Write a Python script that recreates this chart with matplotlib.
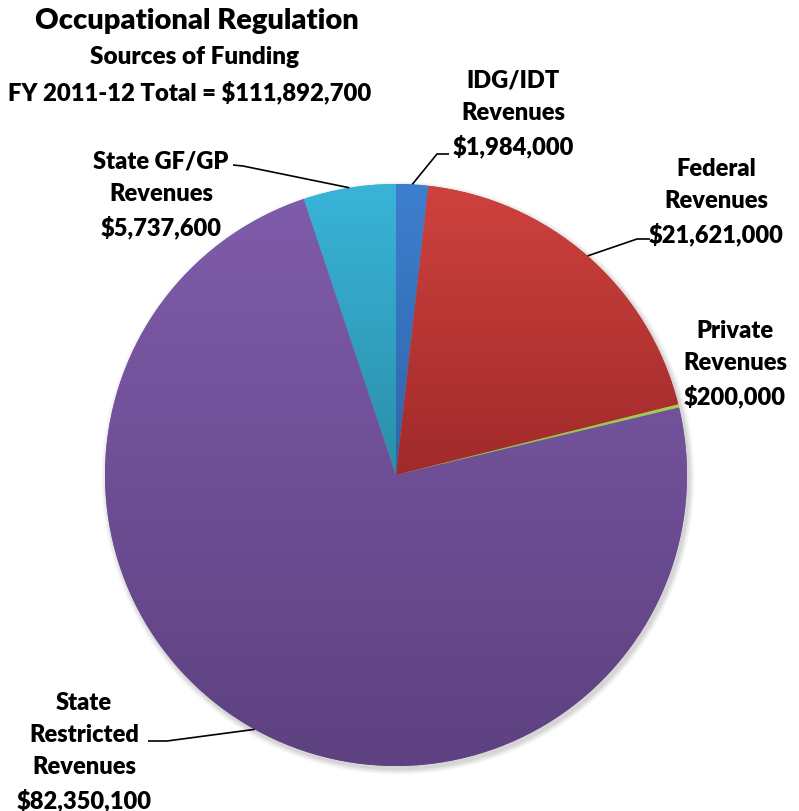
import numpy as np
import matplotlib
matplotlib.use("Agg")
import matplotlib.pyplot as plt
from matplotlib.colors import to_rgb

# data
labels = ["IDG/IDT\nRevenues", "Federal\nRevenues", "Private\nRevenues",
          "State\nRestricted\nRevenues", "State GF/GP\nRevenues"]
values = [1984000, 21621000, 200000, 82350100, 5737600]
top_colors = ["#3D7FCF", "#CE423E", "#A4CF52", "#7F5CAA", "#39B4D8"]
bottom_colors = ["#2F65A8", "#A02A2A", "#86AE3C", "#5D4180", "#2A8FA9"]
title_lines = ["Occupational Regulation", "Sources of Funding",
               "FY 2011-12 Total = $111,892,700"]

W, H = 799, 812
fig = plt.figure(figsize=(W / 100, H / 100), dpi=100)
ax = fig.add_axes([0, 0, 1, 1])

def py(y):
    return H - y

cx, cy, R = 396, py(476), 291

# soft shadow
for i, a in enumerate([0.05, 0.05, 0.04, 0.03]):
    ax.add_patch(plt.Circle((cx + 2, cy - 3), R + 1 + i * 1.5, color="black",
                            alpha=a, lw=0, zorder=0))

wedges, _ = ax.pie(values, startangle=90, counterclock=False, center=(cx, cy),
                   radius=R, colors=top_colors, frame=True,
                   wedgeprops=dict(linewidth=0))
ax.set_xlim(0, W)
ax.set_ylim(0, H)
ax.set_aspect("equal")
ax.axis("off")

# vertical gradient in each slice
for w, c1, c2 in zip(wedges, top_colors, bottom_colors):
    ext = w.get_path().get_extents()
    t = np.linspace(0, 1, 256)[:, None]
    grad = (1 - t) * np.array(to_rgb(c1)) + t * np.array(to_rgb(c2))
    img = np.repeat(grad[:, None, :], 2, axis=1)
    im = ax.imshow(img, extent=[ext.x0, ext.x1, ext.y0, ext.y1], origin="upper",
                   aspect="auto", zorder=2, interpolation="bilinear")
    im.set_clip_path(w)

fp = dict(family=["Lato", "DejaVu Sans"], fontweight="heavy", color="black")

# label centre (x, y in px); leader: label end, elbow
label_pos = [(513, 114), (716, 202), (735, 364), (84, 752), (161, 195)]
label_value = ["$" + f"{v:,}" for v in values]
leaders = [((449, 155), (437, 155)), ((650, 240), (637, 240)), None,
           ((148, 742), (167, 742)), ((233, 166), (243, 167))]

for i, w in enumerate(wedges):
    txt = labels[i] + "\n" + label_value[i]
    x, y = label_pos[i]
    ax.text(x, py(y), txt, ha="center", va="center", fontsize=17,
            linespacing=1.55, zorder=5, **fp)
    if leaders[i] is not None:
        mid = np.deg2rad((w.theta1 + w.theta2) / 2)
        ax_, ay_ = cx + R * np.cos(mid), cy + R * np.sin(mid)
        (x0, y0), (x1, y1) = leaders[i]
        ax.plot([x0, x1, ax_], [py(y0), py(y1), ay_], color="black", lw=1.2,
                zorder=4, solid_capstyle="butt")

ax.text(197, py(21), title_lines[0], ha="center", va="center", fontsize=21, **fp)
ax.text(195, py(57), title_lines[1], ha="center", va="center", fontsize=17.5, **fp)
ax.text(190, py(92), title_lines[2], ha="center", va="center", fontsize=17.2, **fp)

fig.savefig("out.png", dpi=100, facecolor="white")
